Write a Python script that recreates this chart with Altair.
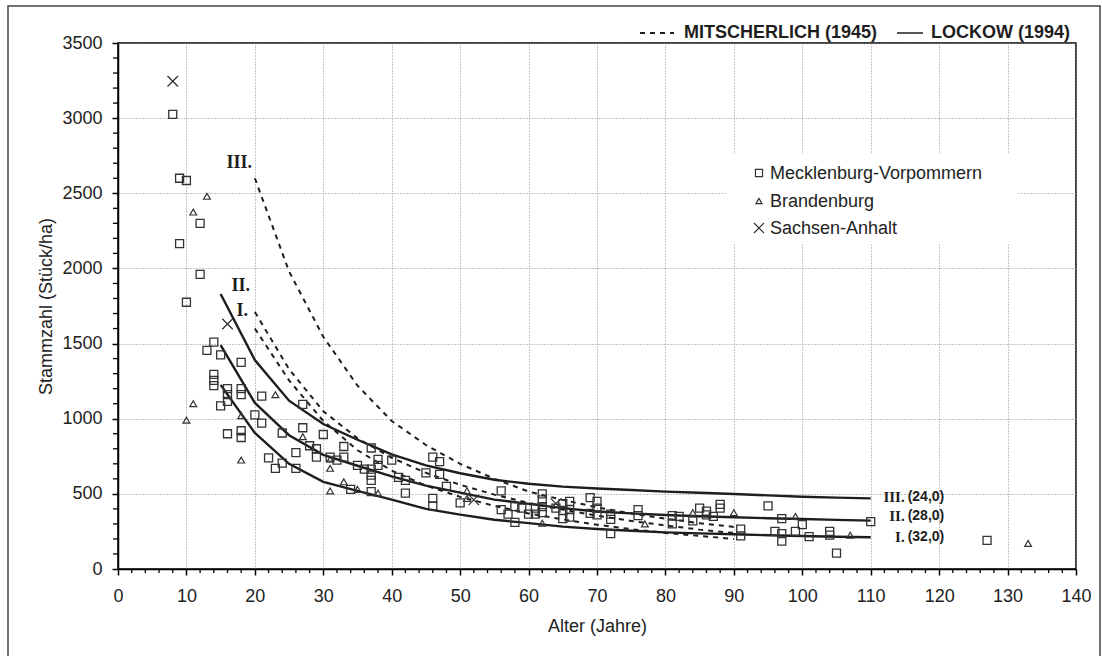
import altair as alt
import pandas as pd

# ---------------- data ----------------
lockow_age = [15, 20, 25, 30, 35, 40, 45, 50, 55, 60, 65, 70, 75, 80, 85, 90, 95, 100, 105, 110]
lockow_I = [1225, 905, 700, 580, 520, 462, 400, 362, 328, 305, 282, 266, 255, 244, 237, 231, 225, 220, 215, 211]
lockow_II = [1490, 1105, 890, 760, 687, 616, 555, 508, 462, 433, 405, 383, 370, 359, 351, 344, 338, 333, 327, 322]
lockow_III = [1830, 1390, 1120, 965, 860, 763, 690, 637, 594, 567, 548, 536, 526, 515, 507, 499, 490, 481, 475, 470]

mit_age = [20, 25, 30, 35, 40, 45, 50, 55, 60, 65, 70, 75, 80, 85, 90]
mit_I = [1600, 1255, 985, 790, 655, 555, 480, 420, 370, 330, 295, 265, 240, 220, 200]
mit_II = [1710, 1330, 1050, 870, 740, 640, 560, 495, 440, 395, 355, 320, 290, 262, 240]
mit_III = [2600, 1980, 1545, 1220, 985, 825, 700, 600, 515, 460, 410, 370, 335, 305, 280]

mv_age = [8, 9, 10, 12, 9, 12, 10, 14, 13, 15, 18, 14, 14, 14, 16, 18, 18, 16, 16, 15, 21, 27, 20, 21,
          16, 18, 18, 24, 27, 30, 28, 29, 29, 26, 31, 32, 22, 24, 23, 26, 33, 33, 37, 38, 38, 35, 36, 37,
          37, 37, 40, 41, 42, 42, 37, 34, 45, 46, 47, 47, 48, 46, 46, 50, 56, 56, 57, 58, 58, 59, 60, 61,
          61, 62, 62, 62, 62, 64, 65, 65, 65, 66, 66, 66, 69, 70, 70, 70, 69, 72, 72, 72, 76, 76, 81, 81,
          82, 84, 85, 86, 86, 87, 88, 88, 91, 91, 95, 96, 97, 97, 97, 99, 100, 101, 104, 104, 105, 110, 127]
mv_n = [3025, 2600, 2585, 2300, 2165, 1960, 1775, 1510, 1455, 1425, 1375, 1295, 1255, 1220, 1200, 1200,
        1160, 1160, 1115, 1085, 1150, 1095, 1025, 970, 900, 920, 875, 905, 940, 895, 820, 800, 745, 775,
        745, 725, 740, 705, 670, 670, 815, 745, 805, 730, 690, 690, 665, 665, 625, 590, 725, 610, 590, 505,
        515, 530, 640, 745, 715, 630, 550, 470, 420, 440, 520, 395, 365, 415, 310, 405, 365, 405, 365, 500,
        460, 415, 375, 405, 435, 390, 335, 450, 395, 345, 475, 450, 405, 360, 370, 365, 330, 235, 395, 355,
        355, 300, 350, 320, 405, 385, 360, 350, 430, 405, 265, 220, 420, 250, 335, 235, 185, 250, 295, 215,
        250, 225, 105, 315, 190]

bb_age = [13, 11, 11, 10, 23, 18, 18, 27, 31, 31, 31, 33, 35, 38, 51, 51, 62, 77, 84, 90, 99, 107, 133]
bb_n = [2480, 2375, 1100, 990, 1160, 1020, 725, 880, 730, 670, 520, 580, 530, 505, 520, 470, 305, 300,
        375, 375, 350, 225, 170]

sa_age = [8, 16, 52, 64]
sa_n = [3245, 1630, 460, 435]

lands = ["Mecklenburg-Vorpommern", "Brandenburg", "Sachsen-Anhalt"]

left_lab = ["III.", "II.", "I."]
left_lab_x = [19.6, 19.3, 19.0]
left_lab_y = [2700, 1880, 1717]

right_num = ["III.", "II.", "I."]
right_par = ["(24,0)", "(28,0)", "(32,0)"]
right_lab_y = [479, 353, 213]
right_lab_x = [115.4, 115.4, 115.4]

key_labels = ["MITSCHERLICH (1945)", "LOCKOW (1994)"]

x_major = list(range(0, 141, 10))
x_minor = [v for v in range(0, 141, 2) if v % 10 != 0]
y_major = list(range(0, 3501, 500))
y_minor = [v for v in range(0, 3501, 100) if v % 500 != 0]

# ---------------- frames ----------------
rows = []
for name, vals in (("I.", lockow_I), ("II.", lockow_II), ("III.", lockow_III)):
    for a, v in zip(lockow_age, vals):
        rows.append({"age": a, "n": v, "curve": name})
lockow_df = pd.DataFrame(rows)

rows = []
for name, vals in (("I.", mit_I), ("II.", mit_II), ("III.", mit_III)):
    for a, v in zip(mit_age, vals):
        rows.append({"age": a, "n": v, "curve": name})
mit_df = pd.DataFrame(rows)

mv_df = pd.DataFrame({"age": mv_age, "n": mv_n})
bb_df = pd.DataFrame({"age": bb_age, "n": bb_n})
sa_df = pd.DataFrame({"age": sa_age, "n": sa_n})

left_df = pd.DataFrame({"age": left_lab_x, "n": left_lab_y, "t": left_lab})
right_df = pd.DataFrame({"age": right_lab_x, "n": right_lab_y, "num": right_num, "par": right_par})
xminor_df = pd.DataFrame({"age": x_minor})
yminor_df = pd.DataFrame({"n": y_minor})
key_df = pd.DataFrame({"t": key_labels})
land_df = pd.DataFrame({"t": lands})

W, H = 958, 526
FONT = "Liberation Sans"
INK = "#1e1e1e"
PT = "#333333"
CROSS = "M-1,-1L1,1M-1,1L1,-1"

xs = alt.Scale(domain=[0, 140], nice=False, zero=False)
ys = alt.Scale(domain=[0, 3500], nice=False)

x_axis = alt.Axis(values=x_major, grid=True, gridDash=[1, 2], gridColor="#8c8c8c", gridWidth=1,
                  labelFont=FONT, labelFontSize=18, labelColor="#222", labelPadding=12, format="d",
                  titleFont=FONT, titleFontSize=18, titleFontWeight="normal", titleColor="#222",
                  titlePadding=12, domainColor="black", domainWidth=1.5, tickColor="black",
                  tickSize=6, tickWidth=1.5, labelFlush=False)
y_axis = alt.Axis(values=y_major, grid=True, gridDash=[1, 2], gridColor="#8c8c8c", gridWidth=1,
                  labelFont=FONT, labelFontSize=18, labelColor="#222", labelPadding=10, format="d",
                  titleFont=FONT, titleFontSize=18, titleFontWeight="normal", titleColor="#222",
                  titlePadding=6, domainColor="black", domainWidth=1.5, tickColor="black",
                  tickSize=6, tickWidth=1.5, labelFlush=False)

X = alt.X("age:Q", scale=xs, axis=x_axis, title="Alter (Jahre)")
Y = alt.Y("n:Q", scale=ys, axis=y_axis, title="Stammzahl (Stück/ha)")
Xp = alt.X("age:Q", scale=xs)
Yp = alt.Y("n:Q", scale=ys)

lockow_layer = alt.Chart(lockow_df).mark_line(color=INK, strokeWidth=2.4).encode(
    x=X, y=Y, detail="curve:N")
mit_layer = alt.Chart(mit_df).mark_line(color=INK, strokeWidth=2, strokeDash=[5, 5]).encode(
    x=Xp, y=Yp, detail="curve:N")

mv_layer = alt.Chart(mv_df).mark_point(shape="square", size=64, filled=False, color=PT,
                                       strokeWidth=1.3, opacity=1).encode(x=Xp, y=Yp)
bb_layer = alt.Chart(bb_df).mark_point(shape="triangle-up", size=46, filled=False, color=PT,
                                       strokeWidth=1.2, opacity=1).encode(x=Xp, y=Yp)
sa_layer = alt.Chart(sa_df).mark_point(shape=CROSS, size=110, filled=False, color=PT,
                                       strokeWidth=1.3, opacity=1).encode(x=Xp, y=Yp)

xminor_layer = alt.Chart(xminor_df).mark_rule(color="black", strokeWidth=1.3).encode(
    x=Xp, y=alt.value(H), y2=alt.value(H + 4))
yminor_layer = alt.Chart(yminor_df).mark_rule(color="black", strokeWidth=1.3).encode(
    y=Yp, x=alt.value(-5), x2=alt.value(0))

left_text = alt.Chart(left_df).mark_text(font="Liberation Serif", fontWeight="bold", fontSize=18,
                                         align="right", baseline="middle", color=INK).encode(
    x=Xp, y=Yp, text="t:N")
right_num_text = alt.Chart(right_df).mark_text(font="Liberation Serif", fontWeight="bold", fontSize=15,
                                               align="right", baseline="middle", dx=-3, color=INK).encode(
    x=Xp, y=Yp, text="num:N")
right_par_text = alt.Chart(right_df).mark_text(font=FONT, fontWeight="bold", fontSize=14,
                                               align="left", baseline="middle", color=INK).encode(
    x=Xp, y=Yp, text="par:N")

# legend for the Laender (inside plot, white box)
def pick(df, val):
    return alt.Chart(df).transform_filter(alt.datum.t == val)

leg_box = pick(land_df, lands[0]).mark_rect(color="white").encode(
    x=alt.value(609), x2=alt.value(899), y=alt.value(110), y2=alt.value(200))
leg_rows_y = [130, 158, 185]
leg_shapes = [("square", 50), ("triangle-up", 36), (CROSS, 100)]
leg_layers = [leg_box]
for land, yy, (shp, sz) in zip(lands, leg_rows_y, leg_shapes):
    leg_layers.append(pick(land_df, land).mark_point(shape=shp, size=sz, filled=False, color=PT,
                                                     strokeWidth=1.2, opacity=1).encode(
        x=alt.value(641), y=alt.value(yy)))
    leg_layers.append(pick(land_df, land).mark_text(font=FONT, fontSize=18, align="left",
                                                    baseline="middle", color="#222").encode(
        x=alt.value(652), y=alt.value(yy + 1), text="t:N"))

# top legend (line styles)
key_mit_text = pick(key_df, key_labels[0]).mark_text(
    font=FONT, fontWeight="bold", fontSize=18, align="right", baseline="middle", color=INK).encode(
    x=alt.value(759), y=alt.value(-10), text="t:N")
key_lock_text = pick(key_df, key_labels[1]).mark_text(
    font=FONT, fontWeight="bold", fontSize=18, align="left", baseline="middle", color=INK).encode(
    x=alt.value(813), y=alt.value(-10), text="t:N")
key_mit_line = pick(key_df, key_labels[0]).mark_rule(
    color=INK, strokeWidth=2, strokeDash=[5, 5]).encode(
    x=alt.value(522), x2=alt.value(556), y=alt.value(-10))
key_lock_line = pick(key_df, key_labels[1]).mark_rule(
    color=INK, strokeWidth=1.5).encode(
    x=alt.value(779), x2=alt.value(805), y=alt.value(-10))

frame = pick(key_df, key_labels[1]).mark_rect(
    fillOpacity=0, stroke="#444", strokeWidth=1.5).encode(
    x=alt.value(-110), x2=alt.value(982), y=alt.value(-37), y2=alt.value(620))

chart = alt.layer(
    frame, xminor_layer, yminor_layer, lockow_layer, mit_layer, *leg_layers,
    mv_layer, bb_layer, sa_layer,
    left_text, right_num_text, right_par_text,
    key_mit_line, key_mit_text, key_lock_line, key_lock_text,
).properties(
    width=W, height=H,
    autosize=alt.AutoSizeParams(type="none"),
    padding={"left": 118, "top": 43, "right": 26, "bottom": 87},
    background="white",
).configure_view(stroke="black", strokeWidth=1.5)

chart.save("out.html", embed_options={"renderer": "svg", "actions": False})
